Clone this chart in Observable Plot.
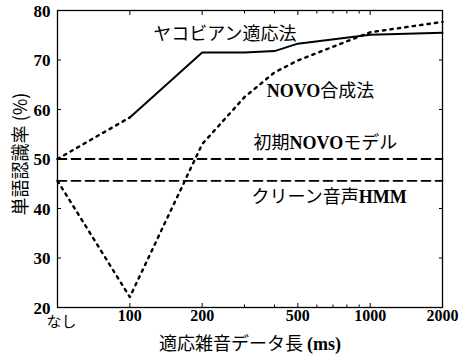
<!DOCTYPE html>
<html><head><meta charset="utf-8">
<script src="https://cdn.jsdelivr.net/npm/d3@7"></script>
<script src="https://cdn.jsdelivr.net/npm/@observablehq/plot@0.6"></script>
<style>body{margin:0;background:#fff}</style>
</head><body><div id="chart"></div>
<script>
// x values (ms); "なし" (no adaptation data) is placed at 50 on the log axis
const noneX = 50;
const noneLabel = "なし";
const xTickValues = [100, 200, 500, 1000, 2000];
const xMinorTicks = [300, 400, 600, 700, 800, 900];
const yTickValues = [20, 30, 40, 50, 60, 70, 80];

// ヤコビアン適応法 (solid)
const jacobX = [100, 200, 300, 400, 500, 1000, 2000];
const jacobY = [58.4, 71.5, 71.5, 71.8, 73.3, 75.1, 75.5];
// dotted start segment from the initial model
const jacobStartX = [50, 100];
const jacobStartY = [50.0, 58.4];

// NOVO合成法 (dotted)
const novoX = [50, 100, 200, 300, 400, 500, 1000, 2000];
const novoY = [45.6, 22.1, 53.0, 62.5, 67.5, 69.9, 75.6, 77.7];

// horizontal references (dashed)
const initNovo = 50.0;   // 初期NOVOモデル
const cleanHmm = 45.6;   // クリーン音声HMM
const refSpan = [50, 2000];

// annotation labels
const labelTexts = ["ヤコビアン適応法", "NOVO合成法", "初期NOVOモデル", "クリーン音声HMM"];
const labelX = [125, 371, 327, 321];
const labelY = [75.2, 63.6, 53.1, 42.2];

const yTitle = "単語認識率 (%)";
const xTitle = "適応雑音データ長 (ms)";

const pts = (xs, ys) => xs.map((x, i) => ({x, y: ys[i]}));
const labels = labelTexts.map((t, i) => ({t, x: labelX[i], y: labelY[i]}));

const serif = "Liberation Serif, Times New Roman, serif";
const cjk = "Noto Sans CJK JP, sans-serif";

const chart = Plot.plot({
  width: 459, height: 356,
  marginLeft: 57, marginRight: 17, marginTop: 10, marginBottom: 49,
  x: {type: "log", domain: [50, 2000]},
  y: {domain: [20, 80]},
  marks: [
    // reference lines
    Plot.line(refSpan.map(x => ({x, y: initNovo})), {x: "x", y: "y", stroke: "black", strokeWidth: 1.8, strokeDasharray: "9,5"}),
    Plot.line(refSpan.map(x => ({x, y: cleanHmm})), {x: "x", y: "y", stroke: "black", strokeWidth: 1.8, strokeDasharray: "9,5"}),
    // NOVO synthesis
    Plot.line(pts(novoX, novoY), {x: "x", y: "y", stroke: "black", strokeWidth: 2.4, strokeDasharray: "2.5,5"}),
    // Jacobian
    Plot.line(pts(jacobStartX, jacobStartY), {x: "x", y: "y", stroke: "black", strokeWidth: 2.4, strokeDasharray: "2.5,5"}),
    Plot.line(pts(jacobX, jacobY), {x: "x", y: "y", stroke: "black", strokeWidth: 2}),
    // labels
    Plot.text(labels, {x: "x", y: "y", text: "t", textAnchor: "start", fontSize: 18, fill: "black", fontFamily: cjk}),
    // frame
    Plot.frame({stroke: "black", strokeWidth: 1.3}),
    // y axis ticks (inward) + labels
    Plot.axisY(yTickValues, {anchor: "left", tickSize: -4, tickFormat: () => "", label: null}),
    Plot.axisY(yTickValues, {anchor: "right", tickSize: -4, tickFormat: () => "", label: null}),
    Plot.axisY(yTickValues, {anchor: "left", tickSize: 0, tickPadding: 7, dy: 1, label: null,
      fontFamily: serif, fontWeight: "bold", fontSize: 17}),
    // x axis ticks
    Plot.axisX(xTickValues, {anchor: "bottom", tickSize: -4, tickFormat: () => "", label: null}),
    Plot.axisX(xTickValues, {anchor: "top", tickSize: -4, tickFormat: () => "", label: null}),
    Plot.axisX(xMinorTicks, {anchor: "bottom", tickSize: -2.5, tickFormat: () => "", label: null}),
    Plot.axisX(xMinorTicks, {anchor: "top", tickSize: -2.5, tickFormat: () => "", label: null}),
    // x tick labels
    Plot.text(xTickValues, {x: d => d, frameAnchor: "bottom", lineAnchor: "top", dy: 2, text: d => String(d),
      fontFamily: serif, fontWeight: "bold", fontSize: 16, fill: "black"}),
    Plot.text([noneX], {x: d => d, frameAnchor: "bottom", lineAnchor: "top", dx: 4, dy: 9, text: () => noneLabel,
      fontFamily: cjk, fontSize: 15, fill: "black"}),
    // axis titles
    Plot.text([yTitle], {frameAnchor: "left", textAnchor: "middle", lineAnchor: "middle", dx: -36, dy: -5, rotate: -90,
      text: d => d, fontSize: 18, fontFamily: cjk, fill: "black"}),
    Plot.text([xTitle], {frameAnchor: "bottom", textAnchor: "middle", lineAnchor: "middle", dy: 37,
      text: d => d, fontSize: 18, fontFamily: cjk, fill: "black"})
  ]
});
document.getElementById("chart").appendChild(chart);

// render Latin runs (NOVO, HMM, ms) in bold serif like the original
const richTexts = new Set([...labelTexts, yTitle, xTitle]);
d3.select(chart).selectAll("text").each(function() {
  const el = d3.select(this);
  const s = this.textContent;
  if (!richTexts.has(s)) return;
  el.text(null);
  s.split(/([A-Za-z]+|\([a-z]+\))/).filter(p => p.length).forEach(p => {
    const latin = /^[A-Za-z()]+$/.test(p);
    el.append("tspan").text(p)
      .attr("font-family", latin ? serif : cjk)
      .attr("font-weight", latin ? "bold" : "normal");
  });
});
</script>
</body></html>
